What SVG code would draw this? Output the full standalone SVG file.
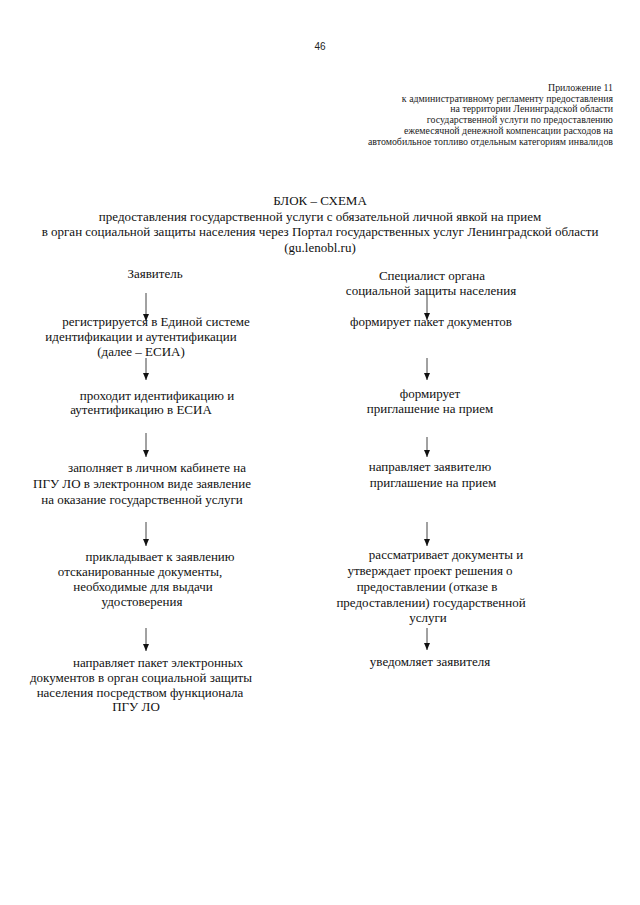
<svg xmlns="http://www.w3.org/2000/svg" width="640" height="905" viewBox="0 0 640 905">
<style>
.t{font-family:"Liberation Serif","Times New Roman",serif;font-size:13px;fill:#111;text-anchor:middle}
.a{font-family:"Liberation Serif","Times New Roman",serif;font-size:9.9px;fill:#222;text-anchor:end}
.n{font-family:"Liberation Sans",Arial,sans-serif;font-size:10px;fill:#222;text-anchor:middle}
.c{stroke:#444;stroke-width:1;fill:none;marker-end:url(#ah)}
</style>
<defs>
<marker id="ah" markerUnits="userSpaceOnUse" markerWidth="7" markerHeight="6" viewBox="0 0 7 6" refX="7" refY="3" orient="auto">
<path d="M0,0 L7,3 L0,6 Z" fill="#111"/>
</marker>
</defs>
<rect width="640" height="905" fill="#fff"/>
<text class="n" x="320" y="50">46</text>
<g id="appendix">
<text class="a" x="613" y="91">Приложение 11</text>
<text class="a" x="613" y="101.5">к  административному регламенту предоставления</text>
<text class="a" x="613" y="112">на территории Ленинградской области</text>
<text class="a" x="613" y="123">государственной услуги по предоставлению</text>
<text class="a" x="613" y="134">ежемесячной денежной компенсации расходов на</text>
<text class="a" x="613" y="145">автомобильное топливо отдельным категориям инвалидов</text>
</g>
<g id="title">
<text class="t" x="320" y="205">БЛОК – СХЕМА</text>
<text class="t" x="320" y="220.5">предоставления государственной услуги с  обязательной личной явкой на прием</text>
<text class="t" x="320" y="236">в орган социальной защиты населения через Портал государственных услуг Ленинградской области</text>
<text class="t" x="320" y="251.5">(gu.lenobl.ru)</text>
</g>
<g id="applicant"><text class="t" x="155" y="278">Заявитель</text></g>
<g id="specialist">
<text class="t" x="432" y="279.5">Специалист органа</text>
<text class="t" x="431" y="294.5">социальной защиты населения</text>
</g>
<g id="l1">
<text class="t" x="156" y="325.5">регистрируется в Единой системе</text>
<text class="t" x="141" y="340.5">идентификации и аутентификации</text>
<text class="t" x="141" y="355.5">(далее – ЕСИА)</text>
</g>
<g id="l2">
<text class="t" x="157" y="399.5">проходит идентификацию и</text>
<text class="t" x="141" y="413.5">аутентификацию в ЕСИА</text>
</g>
<g id="l3">
<text class="t" x="157" y="471.5">заполняет в личном кабинете на</text>
<text class="t" x="142" y="487.5">ПГУ ЛО в электронном виде заявление</text>
<text class="t" x="142" y="503.5">на оказание государственной услуги</text>
</g>
<g id="l4">
<text class="t" x="160" y="560.5">прикладывает  к заявлению</text>
<text class="t" x="140" y="575.5">отсканированные документы,</text>
<text class="t" x="143" y="590.5">необходимые для выдачи</text>
<text class="t" x="142" y="605.5">удостоверения</text>
</g>
<g id="l5">
<text class="t" x="158" y="666.5">направляет пакет электронных</text>
<text class="t" x="141" y="681.5">документов в орган социальной защиты</text>
<text class="t" x="140" y="696.5">населения посредством функционала</text>
<text class="t" x="136" y="710.5">ПГУ ЛО</text>
</g>
<g id="r1"><text class="t" x="431" y="325.5">формирует пакет документов</text></g>
<g id="r2">
<text class="t" x="430" y="397.5">формирует</text>
<text class="t" x="430" y="412.5">приглашение на прием</text>
</g>
<g id="r3">
<text class="t" x="430" y="470.5">направляет заявителю</text>
<text class="t" x="433" y="486.5">приглашение на прием</text>
</g>
<g id="r4">
<text class="t" x="446" y="558.5">рассматривает документы и</text>
<text class="t" x="430" y="574.5">утверждает проект решения о</text>
<text class="t" x="427" y="590.5">предоставлении (отказе в</text>
<text class="t" x="431" y="606.5">предоставлении) государственной</text>
<text class="t" x="428" y="621.5">услуги</text>
</g>
<g id="r5"><text class="t" x="430" y="665.5">уведомляет заявителя</text></g>
<g id="connectors">
<line class="c" x1="146" y1="293" x2="146" y2="321"/>
<line class="c" x1="146" y1="358" x2="146" y2="380"/>
<line class="c" x1="146" y1="433" x2="146" y2="457"/>
<line class="c" x1="146" y1="522" x2="146" y2="546"/>
<line class="c" x1="146" y1="628" x2="146" y2="651"/>
<line class="c" x1="427" y1="293" x2="427" y2="320"/>
<line class="c" x1="427" y1="358" x2="427" y2="380"/>
<line class="c" x1="427" y1="437" x2="427" y2="457"/>
<line class="c" x1="427" y1="522" x2="427" y2="546"/>
<line class="c" x1="427" y1="628" x2="427" y2="650"/>
</g>
</svg>
